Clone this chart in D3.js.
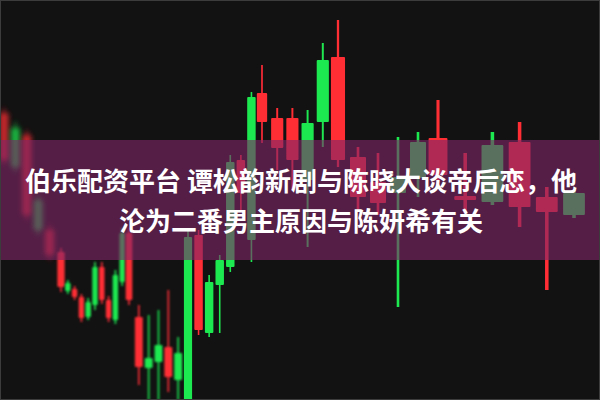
<!DOCTYPE html>
<html><head><meta charset="utf-8">
<script src="https://cdn.jsdelivr.net/npm/d3@7/dist/d3.min.js"></script>
<style>html,body{margin:0;padding:0;background:#121212;}svg{display:block;}</style>
</head><body>
<svg id="c" width="600" height="400"></svg>
<script>
// ---- data ----
const days = d3.range(44).map(i => "D" + (i + 1));
const opens  = [22.00,23.60,19.25,20.00,17.25,15.65,15.85,15.15,14.10,14.90,16.65,15.00,14.10,16.25,18.35,15.00,11.65,12.10,12.75,11.15,12.35,18.15,13.50,15.90,17.00,21.90,20.35,25.15,23.90,22.60,22.00,23.85,27.00,22.00,20.15,19.85,21.15,22.90,21.25,20.00,22.75,19.65,19.40,20.35];
const closes = [24.35,21.65,23.25,18.50,18.50,17.40,15.45,15.55,15.15,14.15,14.75,16.65,15.00,14.00,15.90,18.35,14.15,11.60,11.90,12.65,11.00, 9.50,18.25,13.35,15.75,16.65,22.00,18.00,25.35,24.10,24.10,21.00,23.90,27.15,22.15,20.90,20.35,21.10,23.10,20.20,19.90,22.90,20.15,19.25];
const highs  = [24.60,23.90,23.50,20.25,18.75,17.60,16.00,15.70,15.30,15.10,16.90,16.90,15.20,16.50,18.60,18.60,14.75,14.25,14.50,15.50,13.15,18.50,18.50,16.25,17.25,22.25,22.25,25.40,26.75,24.60,24.60,24.50,27.85,29.00,22.65,22.35,23.15,23.40,25.00,22.35,23.40,23.90,20.65,20.50];
const lows   = [21.75,21.40,19.00,18.25,17.00,15.40,15.30,15.00,13.90,14.00,14.50,14.80,13.90,13.80,15.70,14.75,10.75,10.00,10.00,10.40,10.00, 9.00,13.25,13.15,13.35,16.40,19.50,16.90,22.85,21.50,20.50,17.65,22.65,21.65,19.50,19.25,14.65,20.15,20.75,19.35,19.75,18.65,15.50,19.10];
const titleLines = ["伯乐配资平台 谭松韵新剧与陈晓大谈帝后恋，他", "沦为二番男主原因与陈妍希有关"];

const W = 600, H = 400;
const svg = d3.select("#c");
const candles = days.map((d, i) => ({d, i, o: opens[i], c: closes[i], h: highs[i], l: lows[i]}));

// perspective-like horizontal scale (photo of a screen)
const x = d3.scaleLinear().domain([0,5,15,21,28,33,38,43]).range([4,61,129,188,262,338,438,574]);
const y = d3.scaleLinear().domain([10, 30]).range([H, 0]);

svg.append("rect").attr("width", W).attr("height", H).attr("fill", "#121212");

const defs = svg.append("defs");
const blurLevels = [2.6, 1.3, 0.8, 0.45];
blurLevels.forEach((s, k) => {
  defs.append("filter").attr("id", "b" + k).attr("x", "-50%").attr("y", "-20%").attr("width", "200%").attr("height", "140%")
    .append("feGaussianBlur").attr("stdDeviation", s);
});
function blurFor(i) { return i < 5 ? 0 : i < 16 ? 1 : i < 21 ? 2 : 3; }
function step(i) { return (x(i + 1) - x(i - 1)) / 2; }

const up = "#ff2d36", down = "#1fe84f";
const g = svg.append("g");
const cg = g.selectAll("g.k").data(candles).join("g")
  .attr("filter", d => `url(#b${blurFor(d.i)})`)
  .attr("opacity", d => d.i < 5 ? 0.75 : 1);
cg.append("line")
  .attr("x1", d => x(d.i)).attr("x2", d => x(d.i))
  .attr("y1", d => y(d.h)).attr("y2", d => y(d.l))
  .attr("stroke", d => d.c >= d.o ? up : down)
  .attr("stroke-width", d => Math.max(1.6, step(d.i) * 0.13));
cg.append("rect")
  .attr("x", d => x(d.i) - step(d.i) * 0.8 / 2)
  .attr("width", d => step(d.i) * 0.8)
  .attr("y", d => y(Math.max(d.o, d.c)))
  .attr("height", d => Math.max(1.5, Math.abs(y(d.o) - y(d.c))))
  .attr("rx", 1)
  .attr("fill", d => d.c >= d.o ? up : down);

// banner
svg.append("rect").attr("x", 0).attr("y", 140).attr("width", W).attr("height", 120)
  .attr("fill", "rgb(128,38,104)").attr("fill-opacity", 0.62);

svg.selectAll("text.t").data(titleLines).join("text")
  .attr("class", "t")
  .attr("x", W / 2 + 1)
  .attr("y", (d, i) => 191 + i * 40)
  .attr("text-anchor", "middle")
  .attr("fill", "#ffffff")
  .attr("font-family", "'Noto Sans CJK SC', 'Noto Sans', sans-serif")
  .attr("font-weight", "bold")
  .attr("font-size", 26)
  .text(d => d);

svg.append("rect").attr("x", 0.5).attr("y", 0.5).attr("width", W - 1).attr("height", H - 1)
  .attr("fill", "none").attr("stroke", "#3c3c3c");
</script>
</body></html>
